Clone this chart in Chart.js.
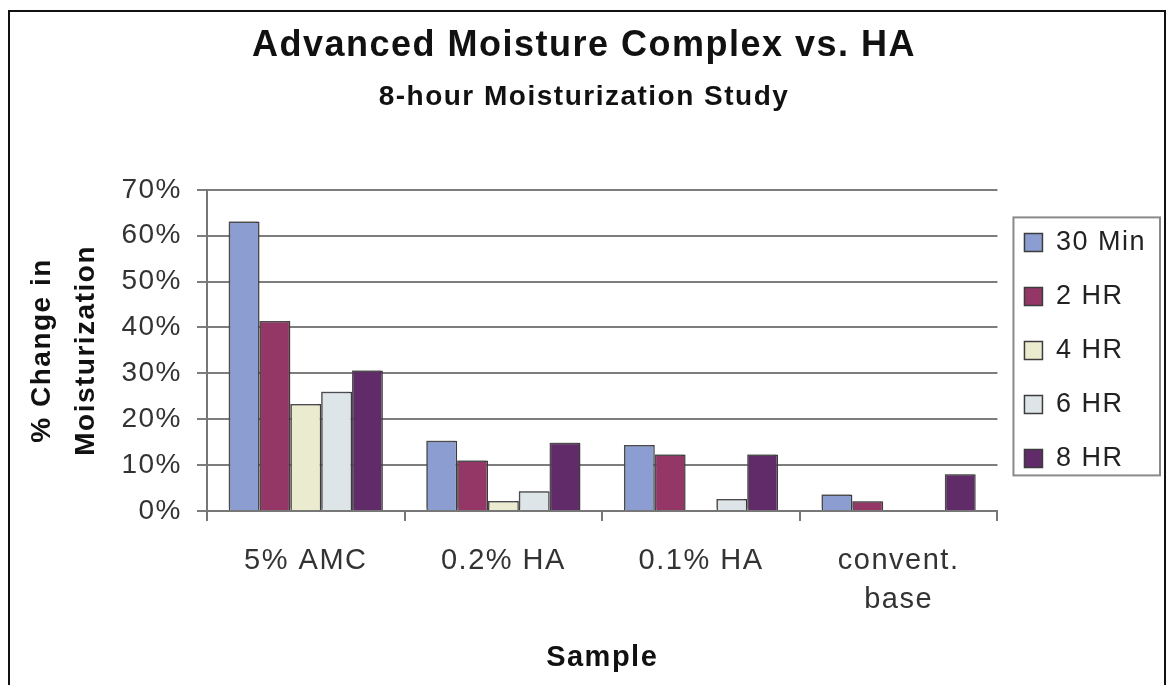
<!DOCTYPE html>
<html>
<head>
<meta charset="utf-8">
<script src="https://cdn.jsdelivr.net/npm/chart.js@4/dist/chart.umd.min.js"></script>
<style>
  html, body { margin: 0; padding: 0; background: #fff; }
  canvas { display: block; }
</style>
</head>
<body>
<canvas id="chart" width="1173" height="685"></canvas>
<script>
// Samples on the horizontal axis
const categories = ['5% AMC', '0.2% HA', '0.1% HA', ['convent.', 'base']];

// % change in moisturization at each reading time
const min30 = [63.1, 15.3, 14.4, 3.6];
const hr2   = [41.4, 11.0, 12.3, 2.1];
const hr4   = [23.3, 2.2, 0, 0];
const hr6   = [26.0, 4.3, 2.6, 0];
const hr8   = [30.6, 14.9, 12.3, 8.0];

const seriesNames = ['30 Min', '2 HR', '4 HR', '6 HR', '8 HR'];
const seriesColors = ['#8c9dd1', '#953766', '#ebebcf', '#dde5e8', '#612a69'];

// Value-axis range and step (percent)
const yMin = 0, yMax = 70, yStep = 10;

const FONT = "'Liberation Sans', Arial, Helvetica, sans-serif";
const SPACING = '1.5px';

// Slightly open lettering for all canvas text
const letterSpacingPlugin = {
  id: 'letterSpacing',
  beforeUpdate(chart) { chart.ctx.letterSpacing = SPACING; },
  beforeLayout(chart) { chart.ctx.letterSpacing = SPACING; },
  beforeDraw(chart) {
    const ctx = chart.ctx;
    ctx.letterSpacing = SPACING;
    ctx.save();
    ctx.fillStyle = '#ffffff';
    ctx.fillRect(0, 0, chart.width, chart.height);
    ctx.restore();
  }
};

// Soft offset edge on the bars
const barEdgePlugin = {
  id: 'barEdge',
  beforeDatasetsDraw(chart) {
    const ctx = chart.ctx;
    ctx.save();
    ctx.shadowColor = 'rgba(90,90,90,0.55)';
    ctx.shadowOffsetX = -2;
    ctx.shadowOffsetY = -2;
    ctx.shadowBlur = 0;
  },
  afterDatasetsDraw(chart) {
    chart.ctx.restore();
  }
};

// Outer frame and the box around the legend
const framePlugin = {
  id: 'frame',
  afterDraw(chart) {
    const ctx = chart.ctx;
    ctx.save();
    ctx.strokeStyle = '#111';
    ctx.lineWidth = 2;
    ctx.strokeRect(9, 11, 1156, 700);

    const lg = chart.legend;
    const hb = lg.legendHitBoxes;
    if (hb && hb.length) {
      const first = hb[0], last = hb[hb.length - 1];
      const top = first.top + first.height / 2 - 25;
      const bottom = last.top + last.height / 2 + 17;
      const left = first.left - 11;
      const right = lg.right + 4;
      ctx.strokeStyle = '#8a8a8a';
      ctx.lineWidth = 2;
      ctx.strokeRect(left, top, right - left, bottom - top);
    }
    ctx.restore();
  }
};

const seriesData = [min30, hr2, hr4, hr6, hr8];

new Chart(document.getElementById('chart'), {
  type: 'bar',
  data: {
    labels: categories,
    datasets: seriesNames.map((name, i) => ({
      label: name,
      data: seriesData[i],
      backgroundColor: seriesColors[i],
      borderColor: '#3c3c3c',
      borderWidth: 1.5,
      borderSkipped: 'bottom',
      categoryPercentage: 0.78,
      barPercentage: 1.0
    }))
  },
  options: {
    responsive: false,
    animation: false,
    devicePixelRatio: 1,
    layout: { padding: { left: 12, right: 17, top: 0, bottom: 0 } },
    plugins: {
      tooltip: { enabled: false },
      title: {
        display: true,
        text: 'Advanced Moisture Complex vs. HA',
        color: '#111',
        font: { family: FONT, size: 36, weight: 'bold', lineHeight: 1.2 },
        padding: { top: 24, bottom: 0 }
      },
      subtitle: {
        display: true,
        text: '8-hour Moisturization Study',
        color: '#111',
        font: { family: FONT, size: 28, weight: 'bold', lineHeight: 1.2 },
        padding: { top: 13, bottom: 76 }
      },
      legend: {
        display: true,
        position: 'right',
        fullSize: false,
        labels: {
          color: '#222',
          font: { family: FONT, size: 27 },
          boxWidth: 18,
          boxHeight: 18,
          padding: 27
        }
      }
    },
    scales: {
      x: {
        offset: true,
        grid: {
          offset: true,
          drawOnChartArea: true,
          color: (c) => (c.index === categories.length ? '#9a9a9a' : 'rgba(0,0,0,0)'),
          lineWidth: 2,
          tickColor: '#777',
          tickLength: 10,
          drawTicks: true
        },
        border: { display: true, color: '#777', width: 2 },
        ticks: {
          color: '#333',
          font: { family: FONT, size: 29, lineHeight: 1.35 },
          padding: 20,
          maxRotation: 0,
          autoSkip: false
        },
        title: {
          display: true,
          text: 'Sample',
          color: '#111',
          font: { family: FONT, size: 29, weight: 'bold', lineHeight: 1.2 },
          padding: { top: 0, bottom: 10 }
        },
        afterFit(scale) { scale.height = 174; }
      },
      y: {
        min: yMin,
        max: yMax,
        grid: {
          color: '#7d7d7d',
          lineWidth: 2,
          tickLength: 10,
          drawTicks: true
        },
        border: { display: true, color: '#777', width: 2 },
        ticks: {
          stepSize: yStep,
          color: '#333',
          font: { family: FONT, size: 28 },
          padding: 15,
          callback: (v) => v + '%'
        },
        title: {
          display: true,
          text: ['% Change in', 'Moisturization'],
          color: '#111',
          font: { family: FONT, size: 28, weight: 'bold', lineHeight: 1.55 },
          padding: { top: 9, bottom: 0 }
        },
        afterFit(scale) { scale.width = 195; }
      }
    }
  },
  plugins: [letterSpacingPlugin, barEdgePlugin, framePlugin]
});
</script>
</body>
</html>
